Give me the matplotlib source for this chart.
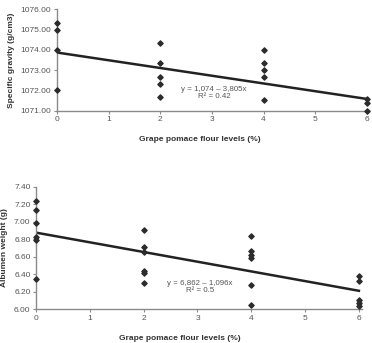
import numpy as np
import matplotlib
matplotlib.use("Agg")
import matplotlib.pyplot as plt

plt.rcParams["font.family"] = ["Liberation Sans", "DejaVu Sans"]

# ── Data ─────────────────────────────────────────────────────────────────
levels = [0, 2, 4, 6]

# Specific gravity (g/cm3) per pomace level
sg_x = [0, 0, 0, 0,
        2, 2, 2, 2, 2,
        4, 4, 4, 4, 4,
        6, 6, 6]
sg_y = [1075.34, 1075.0, 1074.0, 1072.0,
        1074.32, 1073.34, 1072.67, 1072.3, 1071.66,
        1074.0, 1073.34, 1073.0, 1072.67, 1071.53,
        1071.6, 1071.4, 1071.0]
sg_fit = (1073.87, -0.381)          # intercept, slope
sg_eq = "y = 1,074 \u2013 3,805x"
sg_r2 = "R\u00b2 = 0.42"
sg_ticks = [1071, 1072, 1073, 1074, 1075, 1076]

# Albumen weight (g) per pomace level
aw_x = [0, 0, 0, 0, 0, 0,
        2, 2, 2, 2, 2, 2,
        4, 4, 4, 4, 4, 4,
        6, 6, 6, 6, 6]
aw_y = [7.24, 7.13, 6.98, 6.83, 6.79, 6.35,
        6.905, 6.71, 6.65, 6.44, 6.42, 6.30,
        6.84, 6.66, 6.62, 6.59, 6.28, 6.05,
        6.38, 6.32, 6.11, 6.07, 6.04]
aw_fit = (6.875, -0.1105)
aw_eq = "y = 6,862 \u2013 1,096x"
aw_r2 = "R\u00b2 = 0.5"
aw_ticks = [6.0, 6.2, 6.4, 6.6, 6.8, 7.0, 7.2, 7.4]

xlabel = "Grape pomace flour levels (%)"

SPINE = "#8a8a8a"
TICKC = "#555555"
MARK = "#2b2b2b"


def style_axes(ax, yticks, ylabel, ylabel_x, xlabel_pos):
    for s in ("top", "right"):
        ax.spines[s].set_visible(False)
    for s in ("left", "bottom"):
        ax.spines[s].set_color(SPINE)
        ax.spines[s].set_linewidth(1.0)
    ax.set_xticks(range(0, 7))
    ax.set_yticks(yticks)
    ax.set_yticklabels([f"{t:.2f}" for t in yticks])
    ax.tick_params(axis="both", labelsize=6, colors=SPINE, labelcolor=TICKC,
                   length=2.5, width=0.8, pad=1.5)
    ax.set_xlabel(xlabel, fontsize=6, fontweight="bold", color="#333333")
    ax.xaxis.set_label_coords(*xlabel_pos)
    ax.set_ylabel(ylabel, fontsize=6, fontweight="bold", color="#333333")
    ax.yaxis.set_label_coords(ylabel_x, 0.5)


fig = plt.figure(figsize=(3.72, 3.43), dpi=100)

# ── Top: specific gravity ────────────────────────────────────────────────
ax1 = fig.add_axes([0.153, 0.677, 0.84, 0.296])
ax1.scatter(sg_x, sg_y, marker="D", s=7, color=MARK, zorder=3, clip_on=False)
xs = np.array([0, 6])
ax1.plot(xs, sg_fit[0] + sg_fit[1] * xs, color="#222222", lw=1.8, zorder=2)
ax1.set_xlim(0, 6.05)
ax1.set_ylim(1071, 1076)
style_axes(ax1, sg_ticks, "Specific gravity (g/cm3)", -0.135, (0.457, -0.25))
ax1.text(3.04, 1072.07, sg_eq, fontsize=5.7, color="#555555", ha="center", va="center")
ax1.text(3.04, 1071.68, sg_r2, fontsize=5.7, color="#555555", ha="center", va="center")

# ── Bottom: albumen weight ───────────────────────────────────────────────
ax2 = fig.add_axes([0.097, 0.098, 0.875, 0.358])
ax2.scatter(aw_x, aw_y, marker="D", s=7, color=MARK, zorder=3, clip_on=False)
ax2.plot(xs, aw_fit[0] + aw_fit[1] * xs, color="#222222", lw=1.8, zorder=2)
ax2.set_xlim(0, 6.05)
ax2.set_ylim(6.0, 7.4)
style_axes(ax2, aw_ticks, "Albumen weight (g)", -0.085, (0.443, -0.205))
ax2.text(3.04, 6.30, aw_eq, fontsize=5.7, color="#555555", ha="center", va="center")
ax2.text(3.04, 6.21, aw_r2, fontsize=5.7, color="#555555", ha="center", va="center")

fig.savefig("out.png", dpi=100)
